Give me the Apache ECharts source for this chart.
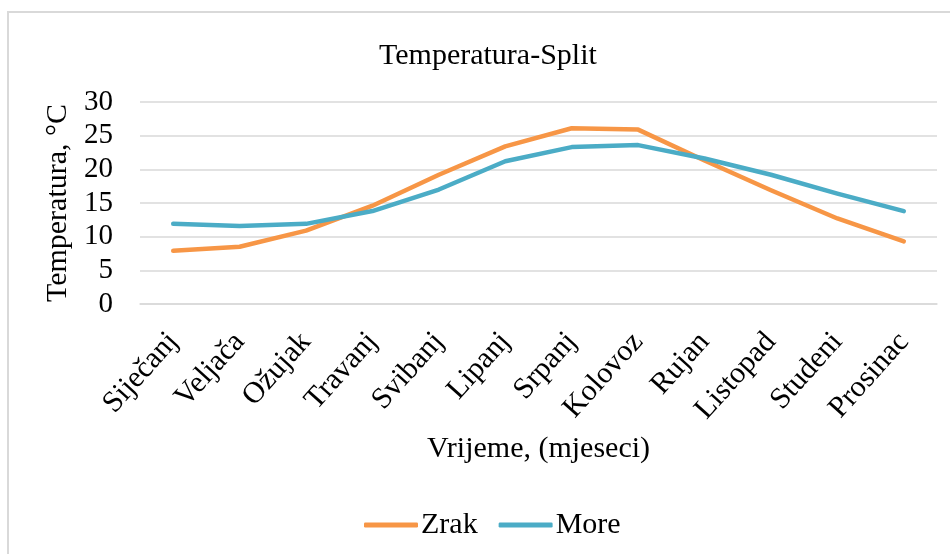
<!DOCTYPE html>
<html>
<head>
<meta charset="utf-8">
<script src="https://cdn.jsdelivr.net/npm/echarts@6/dist/echarts.min.js"></script>
<style>
  html, body { margin: 0; padding: 0; background: #fff; overflow: hidden; }
  #frame { position: absolute; left: 7px; top: 11px; width: 1000px; height: 600px; border: 2px solid #d9d9d9; }
  #chart { position: absolute; left: 0; top: 0; width: 950px; height: 554px; }
</style>
</head>
<body>
<div id="frame"></div>
<div id="chart"></div>
<script>
const months = ['Siječanj', 'Veljača', 'Ožujak', 'Travanj', 'Svibanj', 'Lipanj',
  'Srpanj', 'Kolovoz', 'Rujan', 'Listopad', 'Studeni', 'Prosinac']
const zrak = [7.9, 8.5, 10.9, 14.6, 19.2, 23.4, 26.1, 25.9, 21.3, 16.9, 12.7, 9.3]
const more = [11.9, 11.6, 11.9, 13.8, 17.0, 21.2, 23.3, 23.6, 21.6, 19.2, 16.4, 13.8]

const font = 'Liberation Serif'
const chart = echarts.init(document.getElementById('chart'))

chart.setOption({
  animation: false,
  color: ['#f79646', '#4bacc6'],
  textStyle: { fontFamily: font, color: '#000' },
  title: {
    text: 'Temperatura-Split',
    left: 374,
    top: 36,
    textStyle: { fontFamily: font, fontSize: 30, fontWeight: 'normal', color: '#000' }
  },
  legend: {
    left: 359,
    top: 505,
    icon: 'roundRect',
    itemWidth: 54,
    itemHeight: 5,
    itemGap: 21,
    textStyle: { fontFamily: font, fontSize: 30, color: '#000', padding: [0, 0, 0, -2] },
    data: ['Zrak', 'More']
  },
  grid: {
    left: 140,
    right: 13,
    top: 102,
    bottom: 250
  },
  xAxis: {
    type: 'category',
    data: months,
    boundaryGap: true,
    name: 'Vrijeme, (mjeseci)',
    nameLocation: 'middle',
    nameGap: 130,
    nameTextStyle: { fontFamily: font, fontSize: 30, color: '#000' },
    axisLine: { show: true, lineStyle: { color: '#d9d9d9', width: 1.5 } },
    axisTick: { show: false },
    axisLabel: {
      rotate: 48,
      margin: 33,
      interval: 0,
      fontFamily: font,
      fontSize: 30,
      color: '#000'
    }
  },
  yAxis: {
    type: 'value',
    min: 0,
    max: 30,
    interval: 5,
    name: 'Temperatura, °C',
    nameLocation: 'middle',
    nameGap: 66,
    nameTextStyle: { fontFamily: font, fontSize: 30, color: '#000' },
    axisLine: { show: false },
    axisTick: { show: false },
    axisLabel: { margin: 27, fontFamily: font, fontSize: 29, color: '#000' },
    splitLine: { lineStyle: { color: '#d9d9d9', width: 1.5 } }
  },
  series: [
    {
      name: 'Zrak',
      type: 'line',
      data: zrak,
      symbol: 'none',
      lineStyle: { width: 4.5, cap: 'round', join: 'round' }
    },
    {
      name: 'More',
      type: 'line',
      data: more,
      symbol: 'none',
      lineStyle: { width: 4.5, cap: 'round', join: 'round' }
    }
  ]
})
</script>
</body>
</html>
